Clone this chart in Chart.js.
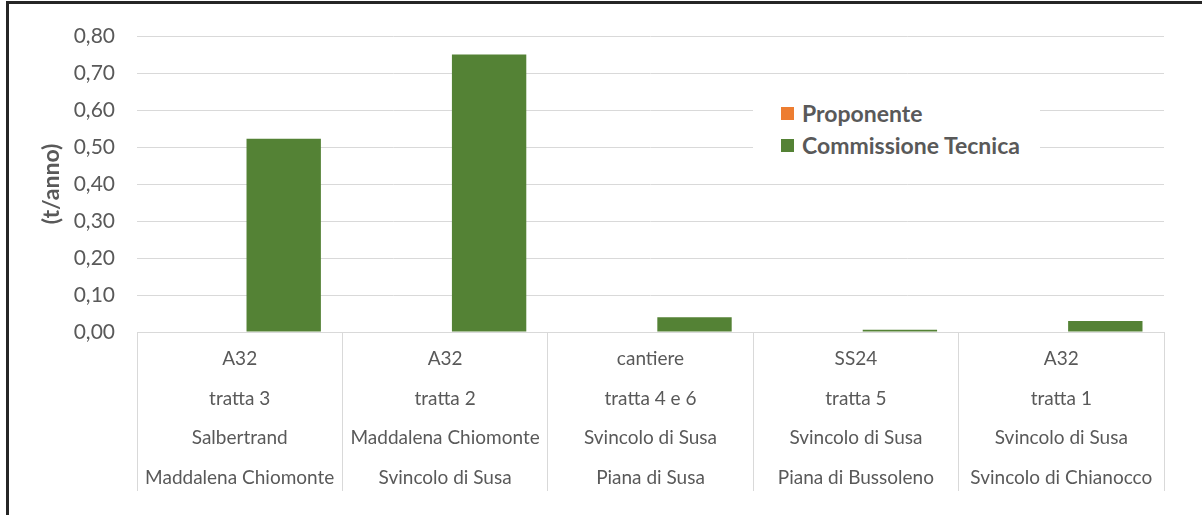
<!DOCTYPE html>
<html>
<head>
<meta charset="utf-8">
<script src="https://cdn.jsdelivr.net/npm/chart.js@4/dist/chart.umd.min.js"></script>
<style>
  html, body { margin: 0; padding: 0; background: #fff; }
  #wrap { position: relative; width: 1202px; height: 515px; overflow: hidden; }
  #frame { position: absolute; left: 6px; top: 1px; width: 1200px; height: 520px;
           border-left: 3px solid #262626; border-top: 3px solid #262626; pointer-events: none; }
  #legend { position: absolute; left: 753px; top: 95px; width: 287px; height: 68px; background: #fff;
            font-family: Lato, "Open Sans", sans-serif; font-weight: bold; font-size: 23px; color: #595959; }
  .item { position: absolute; left: 28px; height: 30px; display: flex; align-items: center; white-space: nowrap; }
  .box { width: 13px; height: 13px; margin-right: 8px; flex: none; }
</style>
</head>
<body>
<div id="wrap">
  <canvas id="c" width="1202" height="515"></canvas>
  <div id="legend"></div>
  <div id="frame"></div>
</div>
<script>
const categories = [
  ['A32', 'tratta 3', 'Salbertrand', 'Maddalena Chiomonte'],
  ['A32', 'tratta 2', 'Maddalena Chiomonte', 'Svincolo di Susa'],
  ['cantiere', 'tratta 4 e 6', 'Svincolo di Susa', 'Piana di Susa'],
  ['SS24', 'tratta 5', 'Svincolo di Susa', 'Piana di Bussoleno'],
  ['A32', 'tratta 1', 'Svincolo di Susa', 'Svincolo di Chianocco']
];
const seriesNames = ['Proponente', 'Commissione Tecnica'];
const proponente = [0, 0, 0, 0, 0];
const commissioneTecnica = [0.522, 0.75, 0.040, 0.006, 0.030];
const yTickValues = [0, 0.1, 0.2, 0.3, 0.4, 0.5, 0.6, 0.7, 0.8];
const yTitle = '(t/anno)';

const colors = ['#ED7D31', '#548235'];
const txt = '#595959';
const fam = 'Lato, "Open Sans", sans-serif';

const chart = new Chart(document.getElementById('c'), {
  type: 'bar',
  data: {
    labels: categories,
    datasets: [
      { label: seriesNames[0], data: proponente, backgroundColor: colors[0],
        categoryPercentage: 0.857, barPercentage: 0.845 },
      { label: seriesNames[1], data: commissioneTecnica, backgroundColor: colors[1],
        categoryPercentage: 0.857, barPercentage: 0.845 }
    ]
  },
  options: {
    responsive: false,
    animation: false,
    layout: { padding: { left: 34, right: 38, top: 36, bottom: 0 } },
    plugins: { legend: { display: false }, tooltip: { enabled: false } },
    scales: {
      x: {
        offset: true,
        grid: { offset: true, drawOnChartArea: false, drawTicks: true, tickLength: 159, color: '#d9d9d9', lineWidth: 1 },
        border: { display: true, color: '#d9d9d9' },
        ticks: { autoSkip: false, maxRotation: 0, minRotation: 0, padding: -152,
                 color: txt, font: { family: fam, size: 19, lineHeight: 39.7 / 19 } },
        afterFit: s => { s.height = 183; }
      },
      y: {
        min: 0, max: 0.8,
        afterBuildTicks: s => { s.ticks = yTickValues.map(v => ({ value: v })); },
        grid: { drawTicks: false, color: '#d9d9d9', lineWidth: 1 },
        border: { display: false },
        ticks: { padding: 22, color: txt, font: { family: fam, size: 21 },
                 callback: v => Number(v).toFixed(2).replace('.', ',') },
        title: { display: true, text: yTitle, color: txt, padding: { top: 4, bottom: 0 },
                 font: { family: fam, size: 23, weight: 'bold' } },
        afterFit: s => { s.width = 103; }
      }
    }
  }
});

const leg = document.getElementById('legend');
chart.data.datasets.forEach((ds, i) => {
  const it = document.createElement('div');
  it.className = 'item';
  it.style.top = (3 + i * 32) + 'px';
  const b = document.createElement('span');
  b.className = 'box';
  b.style.background = ds.backgroundColor;
  const t = document.createElement('span');
  t.textContent = ds.label;
  it.appendChild(b); it.appendChild(t);
  leg.appendChild(it);
});
</script>
</body>
</html>
